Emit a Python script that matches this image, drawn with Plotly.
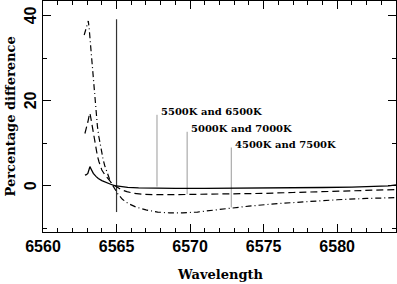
import plotly.graph_objects as go

# ---- data ----
solid_x = [6562.85, 6562.95, 6563.05, 6563.12, 6563.19, 6563.26, 6563.34, 6563.42, 6563.6, 6563.76,
           6564.0, 6564.3, 6564.6, 6564.86, 6565.2, 6565.76, 6566.5, 6567.6, 6569, 6571,
           6573, 6575, 6577, 6579, 6581, 6582.5, 6583.5, 6584]
solid_y = [2.5, 2.6, 2.9, 3.6, 4.5, 4.0, 3.3, 2.9, 2.2, 1.7,
           1.2, 0.7, 0.35, 0.0, -0.2, -0.4, -0.5, -0.6, -0.62, -0.62,
           -0.6, -0.55, -0.5, -0.42, -0.32, -0.2, -0.05, 0.2]

dash_x = [6562.85, 6562.95, 6563.05, 6563.12, 6563.19, 6563.26, 6563.34, 6563.42, 6563.5, 6563.6,
          6563.7, 6563.8, 6563.9, 6564.0, 6564.2, 6564.4, 6564.6, 6564.8, 6565.0, 6565.3,
          6565.7, 6566.2, 6566.8, 6567.5, 6569, 6571, 6573, 6575, 6577, 6579, 6581, 6584]
dash_y = [12.3, 13.4, 15.0, 16.2, 17.1, 15.8, 14.0, 12.4, 10.6, 8.6,
          7.0, 5.7, 4.6, 3.7, 2.6, 1.7, 0.9, 0.2, -0.3, -0.9,
          -1.4, -1.8, -2.0, -2.1, -2.1, -2.05, -1.95, -1.8, -1.6, -1.4, -1.2, -0.9]

dashdot_x = [6562.8, 6562.88, 6562.95, 6563.02, 6563.08, 6563.14, 6563.2, 6563.28, 6563.35, 6563.42,
             6563.5, 6563.6, 6563.7, 6563.8, 6563.9, 6564.0, 6564.1, 6564.2, 6564.3, 6564.4,
             6564.52, 6564.65, 6564.78, 6564.9, 6565.1, 6565.4, 6565.8, 6566.3, 6567.0, 6567.8,
             6568.6, 6569.5, 6570.5, 6572, 6574, 6576, 6578, 6580, 6582, 6584]
dashdot_y = [35.5, 36.5, 37.5, 38.3, 38.8, 37.0, 34.5, 30.5, 27.0, 23.5,
             20.5, 17.0, 14.0, 11.5, 9.3, 7.5, 6.0, 4.7, 3.6, 2.6,
             1.6, 0.6, -0.2, -0.8, -2.0, -3.2, -4.2, -5.0, -5.7, -6.2,
             -6.4, -6.4, -6.2, -5.6, -4.8, -4.2, -3.7, -3.3, -3.0, -2.8]

marker_x = [6565, 6565]
marker_y = [-6.2, 39.2]

label_texts = ["5500K and 6500K", "5000K and 7000K", "4500K and 7500K"]
label_x = [6567.75, 6569.8, 6572.8]
label_top = [16.7, 12.7, 9.0]
label_bottom = [-0.2, -2.0, -5.1]

x_range = [6560, 6584]
y_range = [-10.9, 43.5]
x_tickvals = [6560, 6565, 6570, 6575, 6580]
y_tickvals = [0, 20, 40]
y_ticktext = ["0", "20", "40"]

fig = go.Figure()

# pointer lines for the labels
for lx, lt, lb in zip(label_x, label_top, label_bottom):
    fig.add_trace(go.Scatter(x=[lx, lx], y=[lb, lt], mode="lines",
                             line=dict(color="#9a9a9a", width=1), hoverinfo="skip",
                             showlegend=False))

fig.add_trace(go.Scatter(x=marker_x, y=marker_y, mode="lines",
                         line=dict(color="#333333", width=1.2), showlegend=False))
fig.add_trace(go.Scatter(x=solid_x, y=solid_y, mode="lines",
                         line=dict(color="black", width=1.3), showlegend=False))
fig.add_trace(go.Scatter(x=dash_x, y=dash_y, mode="lines",
                         line=dict(color="black", width=1.2, dash="7px,4px"),
                         showlegend=False))
fig.add_trace(go.Scatter(x=dashdot_x, y=dashdot_y, mode="lines",
                         line=dict(color="black", width=1.2, dash="6px,3px,1px,3px"),
                         showlegend=False))
# invisible trace to bind the mirrored (top/right) tick axes
fig.add_trace(go.Scatter(x=[x_range[0]], y=[y_range[0]], xaxis="x2", yaxis="y2", mode="markers",
                         marker=dict(opacity=0), hoverinfo="skip", showlegend=False))

for t, lx, lt in zip(label_texts, label_x, label_top):
    fig.add_annotation(x=lx, y=lt, text=t, showarrow=False, xanchor="left", yanchor="middle",
                       xshift=2, yshift=3,
                       font=dict(family="DejaVu Serif", size=10, color="black", weight="bold"))

tickfont = dict(family="Liberation Sans", size=16, color="black", weight="bold")

# rotated y tick labels (reading upward, as in the reference)
for v, t in zip(y_tickvals, y_ticktext):
    fig.add_annotation(x=0, xref="paper", y=v, yref="y", text=t, showarrow=False,
                       textangle=-90, xanchor="center", yanchor="middle", xshift=-12.5,
                       font=tickfont)

fig.update_layout(
    xaxis=dict(range=x_range, tickvals=x_tickvals, ticklen=8, automargin=False,
               showgrid=False, zeroline=False, showline=True, linecolor="black", linewidth=1,
               ticks="inside", tickcolor="black", tickwidth=1, tickfont=tickfont,
               minor=dict(dtick=1, tick0=6560, ticks="inside", ticklen=4, tickcolor="black", tickwidth=1)),
    yaxis=dict(range=y_range, tickvals=y_tickvals, ticklen=8, automargin=False,
               showticklabels=False,
               showgrid=False, zeroline=False, showline=True, linecolor="black", linewidth=1,
               ticks="inside", tickcolor="black", tickwidth=1,
               minor=dict(dtick=10, tick0=0, ticks="inside", ticklen=4, tickcolor="black", tickwidth=1)),
    xaxis2=dict(range=x_range, overlaying="x", side="top", anchor="y", tickvals=x_tickvals,
                ticklen=8, automargin=False, showticklabels=False, showgrid=False, zeroline=False,
                showline=True, linecolor="black", linewidth=1, ticks="inside", tickcolor="black",
                tickwidth=1,
                minor=dict(dtick=1, tick0=6560, ticks="inside", ticklen=4, tickcolor="black", tickwidth=1)),
    yaxis2=dict(range=y_range, overlaying="y", side="right", anchor="x", tickvals=y_tickvals,
                ticklen=8, automargin=False, showticklabels=False, showgrid=False, zeroline=False,
                showline=True, linecolor="black", linewidth=1, ticks="inside", tickcolor="black",
                tickwidth=1,
                minor=dict(dtick=10, tick0=0, ticks="inside", ticklen=4, tickcolor="black", tickwidth=1)),
)

fig.add_annotation(x=0.5, y=0, xref="paper", yref="paper", text="Wavelength", showarrow=False,
                   xanchor="center", yanchor="middle", yshift=-42,
                   font=dict(family="DejaVu Serif", size=13, color="black", weight="bold"))
fig.add_annotation(x=0, y=0.5, xref="paper", yref="paper", text="Percentage difference",
                   showarrow=False, textangle=-90, xanchor="center", yanchor="middle", xshift=-33,
                   font=dict(family="DejaVu Serif", size=13, color="black", weight="bold"))

fig.update_layout(width=397, height=284, margin=dict(l=43, r=1, t=1, b=52),
                  plot_bgcolor="white", paper_bgcolor="white")

fig.write_html("out.html", config={"displayModeBar": False},
               post_script="document.body.style.margin='0';document.body.style.padding='0';")
